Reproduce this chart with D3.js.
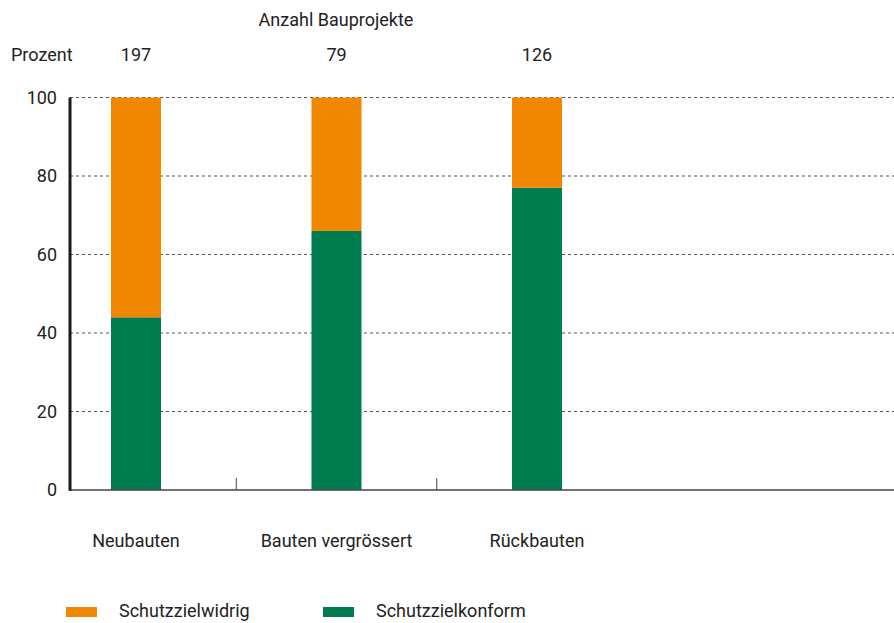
<!DOCTYPE html>
<html><head><meta charset="utf-8">
<script src="https://cdn.jsdelivr.net/npm/d3@7"></script>
<style>
body{margin:0;background:#fff;}
text{font-family:"Liberation Sans Narrow","Roboto","Liberation Sans",sans-serif;fill:#222;}
</style></head><body>
<svg id="c" width="894" height="623"></svg>
<script>
const categories = ["Neubauten","Bauten vergrössert","Rückbauten"];
const counts = [197, 79, 126];
const konform = [44, 66, 77];
const widrig = [56, 34, 23];
const yTicks = [0,20,40,60,80,100];
const seriesNames = ["Schutzzielwidrig","Schutzzielkonform"];
const colors = {"Schutzzielwidrig":"#F08700","Schutzzielkonform":"#007D50"};

const svg = d3.select("#c");
const x0 = 70, x1 = 894, yTop = 97.5, yBot = 490;
const x = d3.scaleBand().domain(categories).range([35.75, 637.25]).paddingInner(0.7506).paddingOuter(0.3753);
const y = d3.scaleLinear().domain([0,100]).range([yBot, yTop]);
const fs = 18;

// gridlines
svg.append("g").selectAll("line").data(yTicks.filter(d=>d>0)).join("line")
  .attr("x1", x0).attr("x2", x1).attr("y1", d=>y(d)).attr("y2", d=>y(d))
  .attr("stroke","#555").attr("stroke-width",1).attr("stroke-dasharray","3,3");

// y tick labels
svg.append("g").selectAll("text").data(yTicks).join("text")
  .attr("x", 57).attr("y", d=>y(d)+6).attr("text-anchor","end")
  .attr("font-size", fs).text(d=>d);

// stacked bars
const rows = categories.map((c,i)=>({cat:c,"Schutzzielkonform":konform[i],"Schutzzielwidrig":widrig[i]}));
const stack = d3.stack().keys(["Schutzzielkonform","Schutzzielwidrig"])(rows);
svg.append("g").selectAll("g").data(stack).join("g")
  .attr("fill", s=>colors[s.key])
  .selectAll("rect").data(s=>s).join("rect")
  .attr("x", d=>x(d.data.cat)).attr("width", x.bandwidth())
  .attr("y", d=>y(d[1])).attr("height", d=>y(d[0])-y(d[1]));

// axes
svg.append("line").attr("x1",x0).attr("x2",x1).attr("y1",yBot).attr("y2",yBot)
  .attr("stroke","#444").attr("stroke-width",1.5);
svg.append("line").attr("x1",x0).attr("x2",x0).attr("y1",yTop).attr("y2",yBot+0.75)
  .attr("stroke","#1a1a1a").attr("stroke-width",3);
// separator ticks
const step = x.step();
svg.append("g").selectAll("line").data(categories.slice(0,-1)).join("line")
  .attr("x1", d=>x(d)+x.bandwidth()/2+step/2).attr("x2", d=>x(d)+x.bandwidth()/2+step/2)
  .attr("y1", yBot-12).attr("y2", yBot).attr("stroke","#444").attr("stroke-width",1);

// category labels
svg.append("g").selectAll("text").data(categories).join("text")
  .attr("x", d=>x(d)+x.bandwidth()/2).attr("y", 547).attr("text-anchor","middle")
  .attr("font-size", fs).text(d=>d);

// counts
svg.append("g").selectAll("text").data(categories).join("text")
  .attr("x", (d,i)=>x(d)+x.bandwidth()/2).attr("y", 61).attr("text-anchor","middle")
  .attr("font-size", fs).text((d,i)=>counts[i]);

svg.append("text").attr("x", 336).attr("y", 26).attr("text-anchor","middle")
  .attr("font-size", fs).text("Anzahl Bauprojekte");
svg.append("text").attr("x", 11).attr("y", 61).attr("font-size", fs).text("Prozent");

// legend
const legX = [66, 323];
const lg = svg.append("g").selectAll("g").data(seriesNames).join("g")
  .attr("transform",(d,i)=>`translate(${legX[i]},0)`);
lg.append("rect").attr("x",0).attr("y",607).attr("width",31).attr("height",10).attr("fill",d=>colors[d]);
lg.append("text").attr("x",53).attr("y",617).attr("font-size",fs).text(d=>d);
</script>
</body></html>
